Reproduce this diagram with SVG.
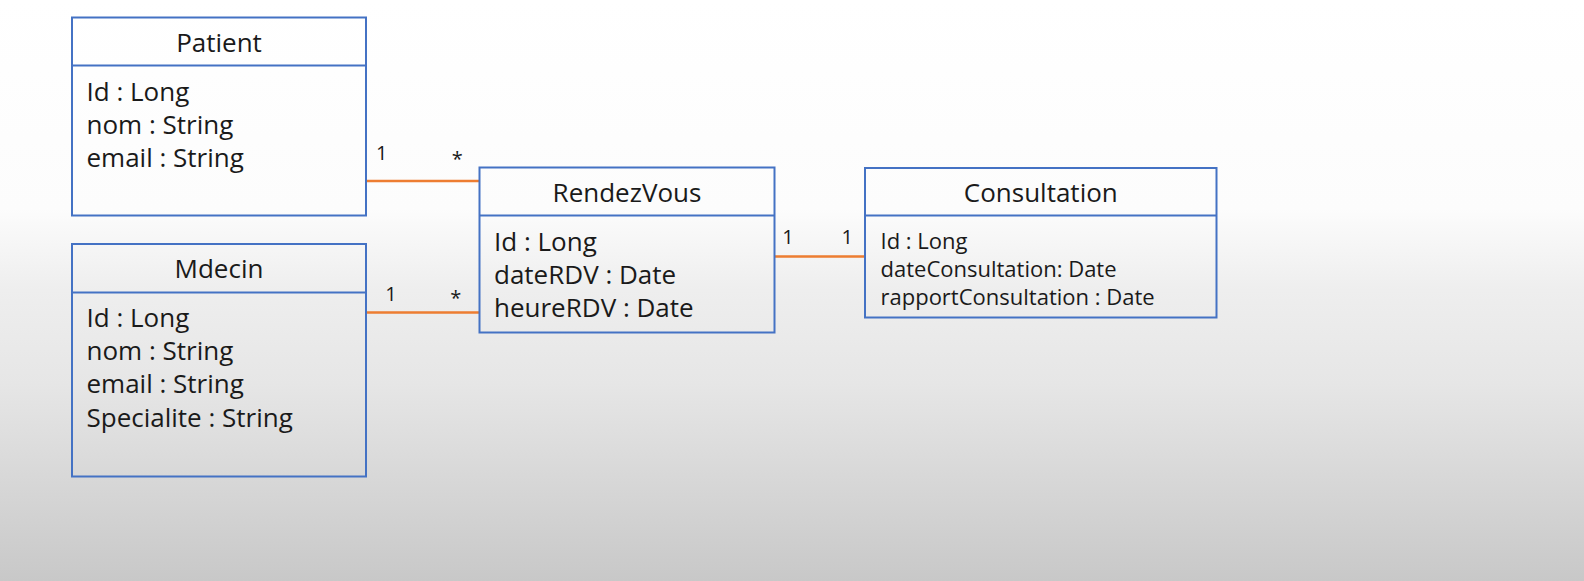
<svg xmlns="http://www.w3.org/2000/svg" width="1584" height="581" viewBox="0 0 1584 581">
<defs>
<linearGradient id="bg" x1="0" y1="0" x2="0" y2="1">
<stop offset="0" stop-color="#ffffff"/>
<stop offset="0.36" stop-color="#fcfcfc"/>
<stop offset="0.5" stop-color="#eeeeee"/>
<stop offset="0.66" stop-color="#e6e6e6"/>
<stop offset="1" stop-color="#c8c8c8"/>
</linearGradient>
<style>
.box{fill:none;stroke:#4472C4;stroke-width:2}
.div{stroke:#4472C4;stroke-width:2}
.t{font-family:"Open Sans","Noto Sans",sans-serif;font-size:26px;fill:#1a1a1a}
.c{text-anchor:middle}
.s{font-size:22px}
.m{font-family:"Open Sans","Noto Sans",sans-serif;font-size:20px;fill:#1a1a1a;text-anchor:middle}
.ln{stroke:#ED7D31;stroke-width:2.5;fill:none}
</style>
</defs>
<rect x="0" y="0" width="1584" height="581" fill="url(#bg)"/>
<g id="connectors">
<line class="ln" x1="366" y1="181" x2="479.5" y2="181"/>
<line class="ln" x1="366" y1="312.5" x2="479.5" y2="312.5"/>
<line class="ln" x1="774.5" y1="256.5" x2="865" y2="256.5"/>
<text class="m" x="381.7" y="160">1</text>
<text class="m" x="457.3" y="166">*</text>
<text class="m" x="391" y="300.5">1</text>
<text class="m" x="455.7" y="305">*</text>
<text class="m" x="788" y="243.5">1</text>
<text class="m" x="847.3" y="243.5">1</text>
</g>
<g id="patient">
<rect class="box" x="72" y="17.5" width="294" height="198"/>
<line class="div" x1="72" y1="65.5" x2="366" y2="65.5"/>
<text class="t c" x="219" y="51.5">Patient</text>
<text class="t" x="86.5" y="100.5">Id : Long</text>
<text class="t" x="86.5" y="133.5">nom : String</text>
<text class="t" x="86.5" y="166.5">email : String</text>
</g>
<g id="mdecin">
<rect class="box" x="72" y="244" width="294" height="232.5"/>
<line class="div" x1="72" y1="292.5" x2="366" y2="292.5"/>
<text class="t c" x="219" y="277.5">Mdecin</text>
<text class="t" x="86.5" y="326.5">Id : Long</text>
<text class="t" x="86.5" y="360">nom : String</text>
<text class="t" x="86.5" y="393">email : String</text>
<text class="t" x="86.5" y="426.5">Specialite : String</text>
</g>
<g id="rendezvous">
<rect class="box" x="479.5" y="167.5" width="295" height="165"/>
<line class="div" x1="479.5" y1="215.5" x2="774.5" y2="215.5"/>
<text class="t c" x="627" y="201.5">RendezVous</text>
<text class="t" x="494" y="250.5">Id : Long</text>
<text class="t" x="494" y="283.5">dateRDV : Date</text>
<text class="t" x="494" y="316.5">heureRDV : Date</text>
</g>
<g id="consultation">
<rect class="box" x="865" y="168" width="351.5" height="149.5"/>
<line class="div" x1="865" y1="215.5" x2="1216.5" y2="215.5"/>
<text class="t c" x="1040.8" y="201.5">Consultation</text>
<text class="t s" x="880.5" y="248.5">Id : Long</text>
<text class="t s" x="880.5" y="276.5">dateConsultation: Date</text>
<text class="t s" x="880.5" y="304.5">rapportConsultation : Date</text>
</g>
</svg>
